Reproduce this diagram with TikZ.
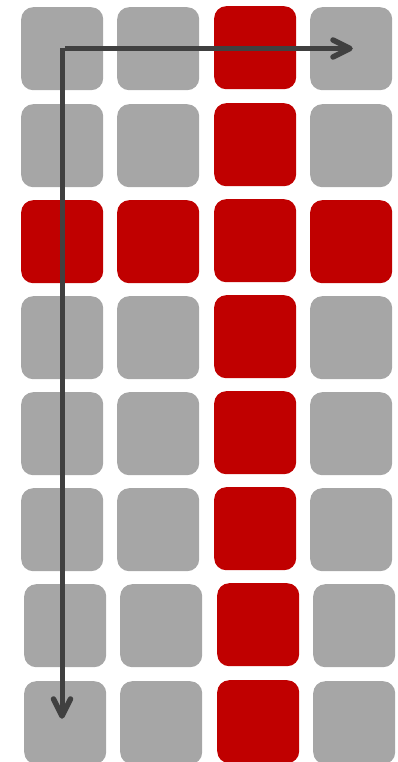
\documentclass[tikz,border=0pt]{standalone}
\usetikzlibrary{calc}
\definecolor{cellgray}{HTML}{A6A6A6}
\definecolor{cellred}{HTML}{C00000}
\definecolor{arrowgray}{HTML}{404040}
\tikzset{
  cell/.style={rectangle, rounded corners=12pt, minimum width=82pt, minimum height=83pt, inner sep=0pt, anchor=north west, fill=cellgray},
  hot/.style={cell, fill=cellred},
  shaft/.style={draw=arrowgray, line width=5pt},
  chevron/.style={draw=arrowgray, line width=5.5pt, line cap=round, line join=round}
}
\begin{document}
\begin{tikzpicture}[x=1pt,y=-1pt]
\useasboundingbox (0,0) rectangle (398,762);
\clip (0,0) rectangle (398,762);
% rows 1-6
\foreach \r/\y in {1/7,2/104,4/296,5/392,6/488}{
  \node[cell] (c\r-1) at (21,\y) {};
  \node[cell] (c\r-2) at (117,\y) {};
  \node[hot]  (c\r-3) at (214,\y-1) {};
  \node[cell] (c\r-4) at (310,\y) {};
}
\node[hot] (c3-1) at (21,200) {};
\node[hot] (c3-2) at (117,200) {};
\node[hot] (c3-3) at (214,199) {};
\node[hot] (c3-4) at (310,200) {};
\foreach \r/\y in {7/584,8/681}{
  \node[cell] (c\r-1) at (24,\y) {};
  \node[cell] (c\r-2) at (120,\y) {};
  \node[hot]  (c\r-3) at (217,\y-1) {};
  \node[cell] (c\r-4) at (313,\y) {};
}
\coordinate (start) at (62,48.5);
\coordinate (hend) at (350,48.5);
\coordinate (vend) at (62,716);
\draw[shaft] ([xshift=3pt]start) -- (hend);
\draw[shaft] (start) -- (vend);
\draw[chevron] ($(hend)+(-17,-8.5)$) -- (hend) -- ($(hend)+(-17,8.5)$);
\draw[chevron] ($(vend)+(-8.5,-17)$) -- (vend) -- ($(vend)+(8.5,-17)$);
\end{tikzpicture}
\end{document}
